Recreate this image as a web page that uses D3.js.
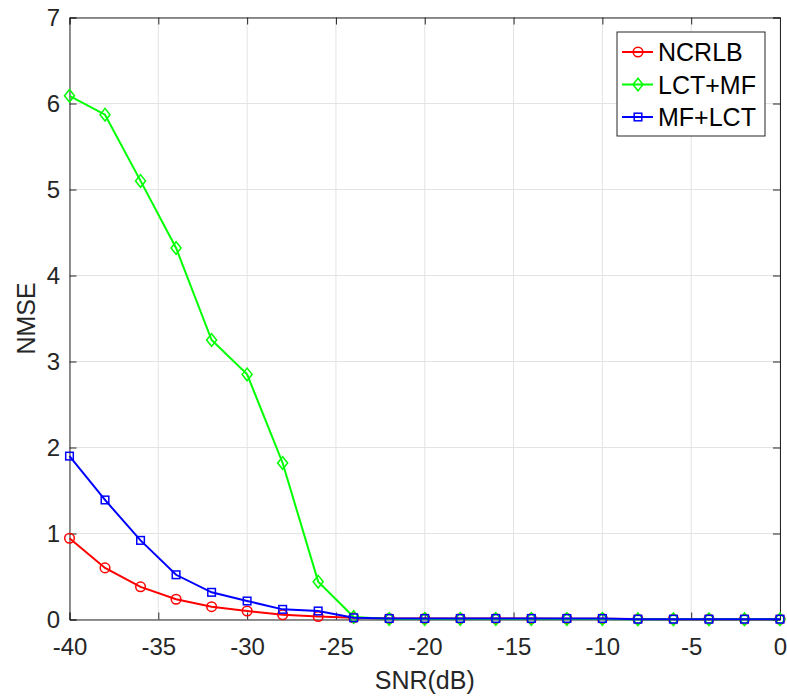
<!DOCTYPE html>
<html lang="en">
<head>
<meta charset="UTF-8">
<title>NMSE vs SNR</title>
<script src="https://cdnjs.cloudflare.com/ajax/libs/d3/7.8.5/d3.min.js"></script>
<style>
    body { margin: 0; background: #fff; font-family: "Liberation Sans", Arial, sans-serif; }
</style>
</head>
<body>
<div id="chart"></div>
<script>
    // data
    const snr = [-40, -38, -36, -34, -32, -30, -28, -26, -24, -22, -20, -18, -16, -14, -12, -10, -8, -6, -4, -2, 0];
    const ncrlb = [0.945, 0.60, 0.38, 0.235, 0.149, 0.099, 0.055, 0.035, 0.02, 0.012, 0.012, 0.011, 0.011, 0.011, 0.01, 0.01, 0.005, 0.004, 0.004, 0.003, 0.003];
    const lctMf = [6.09, 5.87, 5.10, 4.32, 3.25, 2.85, 1.82, 0.44, 0.03, 0.005, 0.005, 0.005, 0.005, 0.005, 0.005, 0.005, 0.004, 0.004, 0.004, 0.004, 0.004];
    const mfLct = [1.90, 1.39, 0.92, 0.52, 0.316, 0.215, 0.118, 0.099, 0.02, 0.012, 0.012, 0.012, 0.012, 0.012, 0.012, 0.012, 0.004, 0.004, 0.004, 0.004, 0.004];
    const xTicks = [-40, -35, -30, -25, -20, -15, -10, -5, 0];
    const yTicks = [0, 1, 2, 3, 4, 5, 6, 7];

    const series = [
        { name: "NCRLB", values: ncrlb, color: "#ff0000", marker: "circle" },
        { name: "LCT+MF", values: lctMf, color: "#00ff00", marker: "diamond" },
        { name: "MF+LCT", values: mfLct, color: "#0000ff", marker: "square" }
    ];

    const width = 787, height = 696;
    const margin = { left: 69.5, right: 7, top: 17.5, bottom: 76.5 };
    const font = "Liberation Sans, Arial, sans-serif";

    const svg = d3.select("#chart").append("svg")
        .attr("width", width)
        .attr("height", height);

    const x = d3.scaleLinear().domain([-40, 0]).range([margin.left, width - margin.right]);
    const y = d3.scaleLinear().domain([0, 7]).range([height - margin.bottom, margin.top]);

    // grid
    const grid = svg.append("g").attr("stroke", "#e3e3e3").attr("stroke-width", 1);
    grid.selectAll("line.gx").data(xTicks).enter().append("line")
        .attr("x1", d => x(d)).attr("x2", d => x(d))
        .attr("y1", y(0)).attr("y2", y(7));
    grid.selectAll("line.gy").data(yTicks).enter().append("line")
        .attr("x1", x(-40)).attr("x2", x(0))
        .attr("y1", d => y(d)).attr("y2", d => y(d));

    // axes, matlab style: ticks inside and box on
    const tickLen = 7;
    const fmt = d => String(d);
    const axisBottom = svg.append("g")
        .attr("transform", `translate(0,${y(0)})`)
        .call(d3.axisBottom(x).tickValues(xTicks).tickSize(-tickLen).tickFormat(fmt));
    const axisLeft = svg.append("g")
        .attr("transform", `translate(${x(-40)},0)`)
        .call(d3.axisLeft(y).tickValues(yTicks).tickSize(-tickLen).tickPadding(9.5).tickFormat(fmt));
    const axisTop = svg.append("g")
        .attr("transform", `translate(0,${y(7)})`)
        .call(d3.axisTop(x).tickValues(xTicks).tickSize(-tickLen).tickFormat(""));
    const axisRight = svg.append("g")
        .attr("transform", `translate(${x(0)},0)`)
        .call(d3.axisRight(y).tickValues(yTicks).tickSize(-tickLen).tickFormat(""));

    [axisBottom, axisLeft, axisTop, axisRight].forEach(a => {
        a.selectAll("path").attr("stroke", "#262626").attr("stroke-width", 1);
        a.selectAll("line").attr("stroke", "#262626");
        a.selectAll("text")
            .attr("font-family", font)
            .attr("font-size", 24)
            .attr("fill", "#262626");
    });
    axisBottom.selectAll("text").attr("y", 35.5).attr("dy", 0);

    // axis labels
    svg.append("text")
        .attr("x", (x(-40) + x(0)) / 2)
        .attr("y", 689)
        .attr("text-anchor", "middle")
        .attr("font-family", font)
        .attr("font-size", 25)
        .attr("fill", "#262626")
        .text("SNR(dB)");
    svg.append("text")
        .attr("transform", `translate(35,${(y(0) + y(7)) / 2}) rotate(-90)`)
        .attr("text-anchor", "middle")
        .attr("font-family", font)
        .attr("font-size", 25)
        .attr("fill", "#262626")
        .text("NMSE");

    const line = d3.line().x((d, i) => x(snr[i])).y(d => y(d));

    function drawMarker(g, type, color) {
        if (type === "circle") {
            g.append("circle").attr("r", 4.8)
                .attr("fill", "none").attr("stroke", color).attr("stroke-width", 1.5);
        } else if (type === "diamond") {
            g.append("path").attr("d", "M0,-6.3L5,0L0,6.3L-5,0Z")
                .attr("fill", "none").attr("stroke", color).attr("stroke-width", 1.5);
        } else {
            g.append("rect").attr("x", -3.8).attr("y", -3.8).attr("width", 7.6).attr("height", 7.6)
                .attr("fill", "none").attr("stroke", color).attr("stroke-width", 1.5);
        }
    }

    series.forEach(s => {
        const g = svg.append("g");
        g.append("path")
            .datum(s.values)
            .attr("d", line)
            .attr("fill", "none")
            .attr("stroke", s.color)
            .attr("stroke-width", 2);
        s.values.forEach((v, i) => {
            const m = g.append("g").attr("transform", `translate(${x(snr[i])},${y(v)})`);
            drawMarker(m, s.marker, s.color);
        });
    });

    // legend
    const legend = svg.append("g").attr("transform", "translate(617,32)");
    legend.append("rect")
        .attr("width", 148).attr("height", 104)
        .attr("fill", "#fff").attr("stroke", "#262626").attr("stroke-width", 1);
    series.forEach((s, i) => {
        const row = legend.append("g").attr("transform", `translate(0,${20 + i * 32.5})`);
        row.append("line").attr("x1", 5).attr("x2", 36).attr("y1", 0).attr("y2", 0)
            .attr("stroke", s.color).attr("stroke-width", 2);
        drawMarker(row.append("g").attr("transform", "translate(21,0)"), s.marker, s.color);
        row.append("text")
            .attr("x", 41).attr("y", 0).attr("dy", "0.36em")
            .attr("font-family", font)
            .attr("font-size", 25)
            .attr("fill", "#000")
            .text(s.name);
    });
</script>
</body>
</html>
